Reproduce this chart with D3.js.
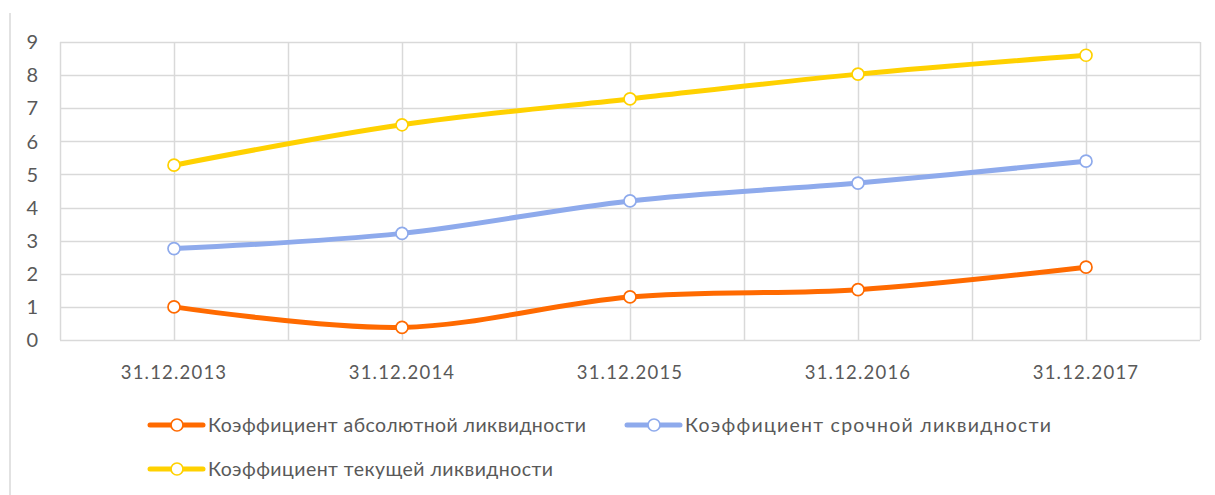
<!DOCTYPE html>
<html>
<head>
<meta charset="utf-8">
<script src="https://cdn.jsdelivr.net/npm/d3@7"></script>
<style>
  body { margin: 0; background: #fff; }
  text { font-family: Lato, "Open Sans", sans-serif; fill: #595959; }
</style>
</head>
<body>
<script>
/* DATA */
var dates    = ['31.12.2013', '31.12.2014', '31.12.2015', '31.12.2016', '31.12.2017'];
var absolute = [1.0, 0.38, 1.3, 1.52, 2.2];
var quick    = [2.76, 3.22, 4.2, 4.74, 5.4];
var current  = [5.28, 6.5, 7.28, 8.03, 8.6];
var yTicks   = [0, 1, 2, 3, 4, 5, 6, 7, 8, 9];
var names    = ['Коэффициент абсолютной ликвидности',
                'Коэффициент срочной ликвидности',
                'Коэффициент текущей ликвидности'];

/* SETTINGS */
var w = 1215, h = 495,
    pLeft = 60, pRight = 1200, pTop = 42, pBottom = 340;
var c = {
  grid:   '#d9d9d9',
  orange: '#ff6a00',
  blue:   '#8eaaec',
  yellow: '#ffd100'
};
var series = [
  { name: names[0], values: absolute, color: c.orange },
  { name: names[1], values: quick,    color: c.blue },
  { name: names[2], values: current,  color: c.yellow }
];

var svg = d3.select('body').append('svg')
  .attr('width', w).attr('height', h);

/* SCALES */
var x = d3.scaleBand().domain(dates).range([pLeft, pRight]);
var y = d3.scaleLinear().domain([0, 9]).range([pBottom, pTop]);
var cx = function(d){ return x(d) + x.bandwidth() / 2; };

/* FRAME LINE ON THE LEFT */
svg.append('line')
  .attr('x1', 10).attr('x2', 10).attr('y1', 13).attr('y2', h)
  .attr('stroke', c.grid).attr('stroke-width', 1.5);

/* GRID */
var vx = [pLeft];
dates.forEach(function(d){ vx.push(cx(d)); vx.push(x(d) + x.bandwidth()); });
svg.append('g').selectAll('line').data(vx).enter().append('line')
  .attr('x1', function(d){ return Math.round(d) + 0.5; })
  .attr('x2', function(d){ return Math.round(d) + 0.5; })
  .attr('y1', pTop).attr('y2', pBottom)
  .attr('stroke', c.grid).attr('stroke-width', 1.5);

svg.append('g').selectAll('line').data(yTicks).enter().append('line')
  .attr('x1', pLeft).attr('x2', pRight)
  .attr('y1', function(d){ return Math.round(y(d)) + 0.5; })
  .attr('y2', function(d){ return Math.round(y(d)) + 0.5; })
  .attr('stroke', c.grid).attr('stroke-width', 1.5);

/* AXIS LABELS */
svg.append('g').selectAll('text').data(yTicks).enter().append('text')
  .attr('x', 38).attr('y', function(d){ return y(d); })
  .attr('dy', '0.36em').attr('text-anchor', 'end')
  .style('font-size', '20px')
  .text(function(d){ return d; });

svg.append('g').selectAll('text').data(dates).enter().append('text')
  .attr('x', cx).attr('y', 372)
  .attr('dy', '0.36em').attr('text-anchor', 'middle')
  .style('font-size', '18.5px')
  .style('letter-spacing', '1.2px')
  .text(function(d){ return d; });

/* LINES */
var line = d3.line()
  .x(function(d, i){ return cx(dates[i]); })
  .y(function(d){ return y(d); })
  .curve(d3.curveCardinal.tension(0));

series.forEach(function(s){
  svg.append('path').datum(s.values)
    .attr('d', line)
    .attr('fill', 'none')
    .attr('stroke', s.color)
    .attr('stroke-width', 5)
    .attr('stroke-linecap', 'round');
  svg.append('g').selectAll('circle').data(s.values).enter().append('circle')
    .attr('cx', function(d, i){ return cx(dates[i]); })
    .attr('cy', function(d){ return y(d); })
    .attr('r', 6)
    .attr('fill', '#fff')
    .attr('stroke', s.color)
    .attr('stroke-width', 1.7);
});

/* LEGEND */
var legendPos = [
  { x: 150, y: 425, len: 378 },
  { x: 627, y: 425, len: 366 },
  { x: 150, y: 469, len: 345 }
];
series.forEach(function(s, i){
  var p = legendPos[i];
  var g = svg.append('g').attr('transform', 'translate(' + p.x + ',' + p.y + ')');
  g.append('line')
    .attr('x1', 0).attr('x2', 53).attr('y1', 0).attr('y2', 0)
    .attr('stroke', s.color).attr('stroke-width', 5).attr('stroke-linecap', 'round');
  g.append('circle')
    .attr('cx', 27).attr('cy', 0).attr('r', 6)
    .attr('fill', '#fff').attr('stroke', s.color).attr('stroke-width', 1.7);
  g.append('text')
    .attr('x', 58).attr('y', 0).attr('dy', '0.36em')
    .attr('textLength', p.len).attr('lengthAdjust', 'spacing')
    .style('font-size', '19.5px')
    .text(s.name);
});
</script>
</body>
</html>
